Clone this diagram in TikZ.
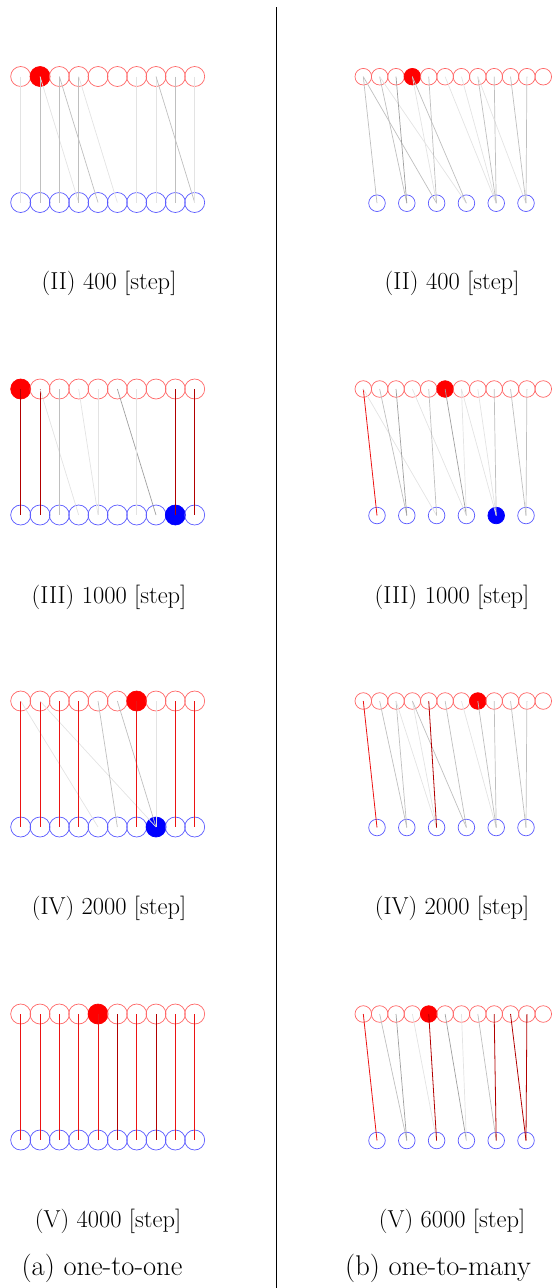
\documentclass[tikz,border=0pt]{standalone}
\tikzset{
 rn/.style={circle,draw=red!60,line width=0.7pt,inner sep=0pt,minimum size=20pt},
 rf/.style={rn,fill=red,draw=red},
 bn/.style={circle,draw=blue!65,line width=0.7pt,inner sep=0pt,minimum size=20pt},
 bf/.style={bn,fill=blue,draw=blue},
 rns/.style={rn,minimum size=16.6pt},
 rfs/.style={rf,minimum size=16.6pt},
 bns/.style={bn,minimum size=16.6pt},
 bfs/.style={bf,minimum size=16.6pt},
 eA/.style={draw=gray!22,line width=0.7pt},
 eB/.style={draw=gray!50,line width=0.7pt},
 eC/.style={draw=gray!75,line width=0.7pt},
 er/.style={draw=red!85!gray,line width=0.8pt},
 edr/.style={draw=red!70!black,line width=0.8pt},
 lab/.style={font=\fontsize{24.5}{29}\selectfont,inner sep=0pt},
 captext/.style={font=\fontsize{28.5}{34}\selectfont,inner sep=0pt},
}
\newcommand\mkleft[4]{%
 \foreach \i in {0,...,9}{%
  \ifnum\i=#3 \def\st{rf}\else\def\st{rn}\fi
  \node[\st] (#1r\i) at ({20.7+19.33*\i},{#2}) {};
  \ifnum\i=#4 \def\st{bf}\else\def\st{bn}\fi
  \node[\st] (#1b\i) at ({20.7+19.33*\i},{#2+126}) {};
 }}
\newcommand\mkright[4]{%
 \foreach \i in {0,...,11}{%
  \ifnum\i=#3 \def\st{rfs}\else\def\st{rns}\fi
  \node[\st] (#1r\i) at ({363.3+16.36*\i},{#2}) {};
 }
 \foreach \i in {0,...,5}{%
  \ifnum\i=#4 \def\st{bfs}\else\def\st{bns}\fi
  \node[\st] (#1b\i) at ({377+29.8*\i},{#2+126.5}) {};
 }}
\newcommand\mkedges[2]{%
 \foreach \a/\b/\s in {#2}{\draw[\s] (#1r\a.center) -- (#1b\b.center);}}
\begin{document}
\begin{tikzpicture}[x=1pt,y=-1pt]
\useasboundingbox (0,0) rectangle (552,1288);
\coordinate (divtop) at (276,7);
\coordinate (divbot) at (276,1288);
\draw[line width=0.8pt] (divtop) -- (divbot);
% left column
\mkleft{La}{76.5}{1}{-1}
\mkedges{La}{0/0/eA,1/1/eB,1/3/eA,2/2/eB,2/4/eB,3/3/eB,3/5/eA,6/6/eA,7/7/eA,7/9/eB,8/8/eB,9/9/eA}
\mkleft{Lb}{389}{0}{8}
\mkedges{Lb}{0/0/edr,1/1/edr,1/3/eA,2/2/eB,3/4/eA,4/4/eA,5/7/eC,6/6/eA,8/8/edr,9/9/edr}
\mkleft{Lc}{701}{6}{7}
\mkedges{Lc}{0/0/er,0/4/eA,1/1/er,1/7/eA,2/2/er,3/3/er,4/5/eB,5/7/eB,6/6/er,7/7/eA,8/8/er,9/9/er}
\mkleft{Ld}{1014}{4}{-1}
\mkedges{Ld}{0/0/er,1/1/er,2/2/er,3/3/er,4/4/er,5/5/edr,6/6/er,7/7/edr,8/8/er,9/9/er}
% right column
\mkright{Ra}{76.7}{3}{-1}
\mkedges{Ra}{0/0/eB,0/2/eB,1/1/eB,1/3/eA,2/1/eC,3/2/eA,3/3/eB,4/2/eB,5/4/eA,6/4/eA,7/4/eB,7/5/eA,8/4/eB,9/5/eB,10/5/eB}
\mkright{Rb}{389}{5}{4}
\mkedges{Rb}{0/0/er,0/2/eA,1/1/eB,2/1/eC,3/3/eA,4/2/eB,5/3/eC,6/3/eA,6/4/eA,7/4/eA,8/4/eB,9/5/eB,10/5/eB}
\mkright{Rc}{701}{7}{-1}
\mkedges{Rc}{0/0/er,1/1/eB,2/1/eB,2/2/eA,3/2/eA,3/3/eB,4/2/edr,5/3/eB,6/4/eA,7/4/eB,8/4/eB,9/5/eB,10/5/eB}
\mkright{Rd}{1014}{4}{-1}
\mkedges{Rd}{0/0/er,1/1/eB,2/1/eC,3/2/eA,4/2/edr,5/3/eC,6/3/eA,7/4/eB,8/4/edr,9/5/edr,10/5/edr}
% labels
\node[lab] (la1) at (109,283) {(II) 400 [step]};
\node[lab] (la2) at (109,597) {(III) 1000 [step]};
\node[lab] (la3) at (109,908) {(IV) 2000 [step]};
\node[lab] (la4) at (108,1221) {(V) 4000 [step]};
\node[lab] (ra1) at (452,283) {(II) 400 [step]};
\node[lab] (ra2) at (452,597) {(III) 1000 [step]};
\node[lab] (ra3) at (452,908) {(IV) 2000 [step]};
\node[lab] (ra4) at (452,1221) {(V) 6000 [step]};
\node[captext] (capa) at (102,1268) {(a) one-to-one};
\node[captext] (capb) at (438,1268) {(b) one-to-many};
\end{tikzpicture}
\end{document}
